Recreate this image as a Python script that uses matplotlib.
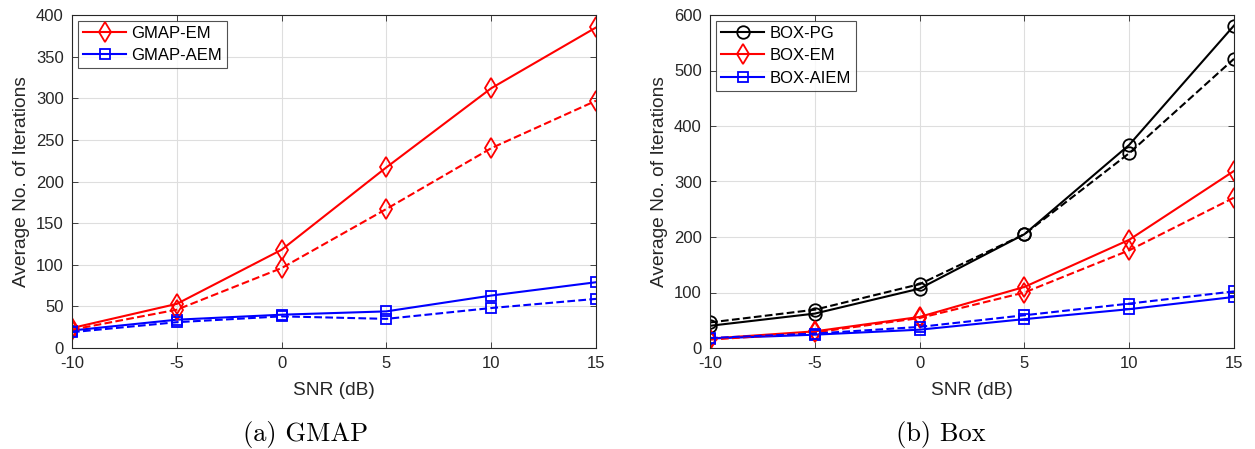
import matplotlib.pyplot as plt
import numpy as np

plt.rcParams['font.family'] = ['Liberation Sans', 'DejaVu Sans']

snr = [-10, -5, 0, 5, 10, 15]

# GMAP panel
gmap_em = [24, 53, 118, 217, 312, 385]
gmap_em_dash = [22, 46, 96, 167, 240, 297]
gmap_aem = [21, 34, 40, 44, 63, 79]
gmap_aem_dash = [19, 31, 38, 35, 48, 59]

# Box panel
box_pg = [40, 62, 107, 205, 366, 581]
box_pg_dash = [46, 69, 115, 205, 351, 521]
box_em = [17, 30, 56, 110, 195, 319]
box_em_dash = [15, 28, 54, 100, 176, 271]
box_aiem = [17, 24, 33, 52, 70, 92]
box_aiem_dash = [18, 26, 38, 59, 80, 102]


def style_axes(ax, ymax, ystep):
    ax.set_xlim(-10, 15)
    ax.set_ylim(0, ymax)
    ax.set_xticks(snr)
    ax.set_xticklabels([str(v) for v in snr])
    ax.set_yticks(np.arange(0, ymax + 1, ystep))
    ax.grid(True, color='#dedede', linewidth=0.8)
    ax.set_axisbelow(True)
    ax.tick_params(direction='in', labelsize=12, length=4, width=0.6,
                   top=True, right=True, colors='#262626', pad=6)
    for s in ax.spines.values():
        s.set_color('#262626')
        s.set_linewidth(0.8)
    ax.set_xlabel('SNR (dB)', fontsize=13.8, color='#262626', labelpad=8)
    ax.set_ylabel('Average No. of Iterations', fontsize=13.8, color='#262626', labelpad=4)


def add_legend(ax):
    leg = ax.legend(loc='upper left', fontsize=12, frameon=True, fancybox=False,
                    edgecolor='#262626', handlelength=2.6, borderpad=0.3,
                    labelspacing=0.45, handletextpad=0.3, borderaxespad=0.35)
    leg.get_frame().set_linewidth(0.8)


dia = dict(marker='d', markersize=10.5, markerfacecolor='none', markeredgewidth=1.3, linewidth=1.5)
sq = dict(marker='s', markersize=6.5, markerfacecolor='none', markeredgewidth=1.3, linewidth=1.5)
circ = dict(marker='o', markersize=9, markerfacecolor='none', markeredgewidth=1.3, linewidth=1.5)

fig = plt.figure(figsize=(12.55, 4.49), dpi=100)
ax1 = fig.add_axes([72 / 1255, 101 / 449, 524 / 1255, 333 / 449])
ax2 = fig.add_axes([710 / 1255, 101 / 449, 524 / 1255, 333 / 449])

ax1.plot(snr, gmap_em, '-', color='red', label='GMAP-EM', **dia)
ax1.plot(snr, gmap_aem, '-', color='blue', label='GMAP-AEM', **sq)
ax1.plot(snr, gmap_em_dash, '--', color='red', **dia)
ax1.plot(snr, gmap_aem_dash, '--', color='blue', **sq)
style_axes(ax1, 400, 50)
add_legend(ax1)

ax2.plot(snr, box_pg, '-', color='black', label='BOX-PG', **circ)
ax2.plot(snr, box_em, '-', color='red', label='BOX-EM', **dia)
ax2.plot(snr, box_aiem, '-', color='blue', label='BOX-AIEM', **sq)
ax2.plot(snr, box_pg_dash, '--', color='black', **circ)
ax2.plot(snr, box_em_dash, '--', color='red', **dia)
ax2.plot(snr, box_aiem_dash, '--', color='blue', **sq)
style_axes(ax2, 600, 100)
add_legend(ax2)

fig.text(306 / 1255, 1 - 434 / 449, '(a) GMAP', ha='center', va='center',
         fontsize=19, family='cmr10')
fig.text(941 / 1255, 1 - 434 / 449, '(b) Box', ha='center', va='center',
         fontsize=19, family='cmr10')

fig.savefig('out.png', dpi=100)
